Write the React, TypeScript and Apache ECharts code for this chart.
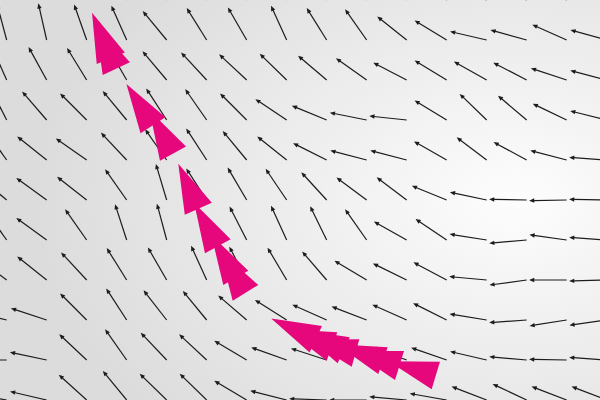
import { useEffect, useRef } from "react";
import * as echarts from "echarts";

// 风场箭头：每行 16 列，列 i 位于 x=i，行值 v 为 y（向上），角度为数学角（度，逆时针自 +x）
const ROW_V = [10, 9, 8, 7, 6, 5, 4, 3, 2, 1, 0];
const angles_v10 = [100, 100, 102, 104, 110, 110, 110, 108, 112, 115, 125, 135, 150, 150, 145, 150];
const angles_v9 = [105, 102.8, 109.4, 114, 129.6, 122, 120, 114.6, 122, 125, 141.5, 148.6, 167, 164.5, 156, 164.5];
const angles_v8 = [114, 118.8, 121.5, 120, 130, 132.9, 137, 135.7, 139.6, 144.8, 152.5, 148.6, 150.7, 152.5, 161.9, 165.5];
const angles_v7 = [117, 130.7, 135, 129.6, 123, 124.8, 135, 146.3, 157.6, 168.7, 173.9, 148.6, 136, 139.7, 154.4, 166];
const angles_v6 = [125.5, 141.5, 145, 133.2, 125, 123, 129.6, 141.5, 153.4, 165.5, 165.5, 150.4, 143, 151.6, 165.5, 176];
const angles_v5 = [140, 144, 142, 125, 106.7, 123, 120.4, 124, 132.5, 143.3, 143, 157.8, 168, 179, 181, 179];
const angles_v4 = [125.5, 144, 125, 108, 105, 109, 117, 114.6, 116, 125, 150.7, 145.9, 171, 185, 172, 176];
const angles_v3 = [143, 141.5, 132.9, 122, 120, 114.5, 117.5, 120.6, 130.7, 149, 153.9, 152, 174.8, 187.8, 180, 181.5];
const angles_v2 = [166, 161.9, 135, 123, 127.9, 129.3, 139.3, 147.7, 156, 159, 156, 153.4, 170.7, 184, 189, 188];
const angles_v1 = [180, 168, 136.8, 125, 133.6, 137, 149.4, 160.4, 162, 155, 160, 161, 167, 175, 179, 176];
const angles_v0 = [170, 167, 137.8, 129.3, 135.7, 135.7, 149.4, 165.7, 178, 180, 175, 170, 159, 154.8, 159, 159];
const ANGLE_ROWS = [
  angles_v10, angles_v9, angles_v8, angles_v7, angles_v6, angles_v5,
  angles_v4, angles_v3, angles_v2, angles_v1, angles_v0,
];

// 粒子轨迹：三角形底边中点 (x, y)、朝向角
const trailX = [2.603, 2.741, 3.658, 4.158, 4.791, 5.278, 5.728, 5.971, 7.728, 8.133, 8.426, 8.721, 9.408, 9.821, 10.728];
const trailY = [8.543, 8.283, 6.868, 6.158, 4.78, 3.843, 3.055, 2.68, 1.518, 1.338, 1.243, 1.175, 0.983, 0.863, 0.613];
const trailAngle = [112.4, 115, 122.7, 118.5, 114, 118.6, 119.8, 121.5, 155, 159.5, 155, 164.5, 160.6, 162.8, 163.3];
const trailWidth = [0.76, 0.75, 0.74, 0.74, 0.74, 0.73, 0.72, 0.75, 0.73, 0.76, 0.72, 0.71, 0.71, 0.76, 0.72];

const ARROW_LEN = 0.94;
const TRI_LEN = 1.23;
const PINK = "#e5077b";
const INK = "#1c1c1c";

const D2R = Math.PI / 180;

export default function App() {
  const ref = useRef<HTMLDivElement>(null);
  useEffect(() => {
    if (!ref.current) return;
    const chart = echarts.init(ref.current, undefined, { renderer: "svg" });

    const arrowData: number[][] = [];
    ANGLE_ROWS.forEach((row, r) => {
      row.forEach((a, i) => arrowData.push([i, ROW_V[r], a]));
    });
    const trailData = trailX.map((x, i) => [x, trailY[i], trailAngle[i], trailWidth[i]]);

    chart.setOption({
      animation: false,
      graphic: [
        {
          type: "rect",
          z: -100,
          silent: true,
          shape: { x: 0, y: 0, width: 600, height: 400 },
          style: {
            fill: new echarts.graphic.RadialGradient(0.86, 0.5, 0.8, [
              { offset: 0, color: "#fdfdfd" },
              { offset: 1, color: "#dcdcdc" },
            ]),
          },
        },
      ],
      grid: { left: 0, right: 0, top: 0, bottom: 0 },
      xAxis: { type: "value", min: -1 / 6, max: 14 + 5 / 6, show: false },
      yAxis: { type: "value", min: 0, max: 10, show: false },
      series: [
        {
          type: "custom",
          silent: true,
          z: 2,
          data: arrowData,
          renderItem: (_params: any, api: any) => {
            const x = api.value(0);
            const y = api.value(1);
            const a = api.value(2) * D2R;
            const c = Math.cos(a);
            const s = Math.sin(a);
            const tail = api.coord([x, y]);
            const tip = api.coord([x + ARROW_LEN * c, y + ARROW_LEN * s]);
            const hb = ARROW_LEN - 0.13;
            const hw = 0.055;
            const h1 = api.coord([x + hb * c - hw * s, y + hb * s + hw * c]);
            const h2 = api.coord([x + hb * c + hw * s, y + hb * s - hw * c]);
            const neck = api.coord([x + (hb + 0.02) * c, y + (hb + 0.02) * s]);
            return {
              type: "group",
              children: [
                {
                  type: "line",
                  shape: { x1: tail[0], y1: tail[1], x2: neck[0], y2: neck[1] },
                  style: { stroke: INK, lineWidth: 1.2 },
                },
                {
                  type: "polygon",
                  shape: { points: [tip, h1, h2] },
                  style: { fill: INK },
                },
              ],
            };
          },
        },
        {
          type: "custom",
          silent: true,
          z: 3,
          data: trailData,
          renderItem: (_params: any, api: any) => {
            const x = api.value(0);
            const y = api.value(1);
            const a = api.value(2) * D2R;
            const w = api.value(3) / 2;
            const c = Math.cos(a);
            const s = Math.sin(a);
            const apex = api.coord([x + TRI_LEN * c, y + TRI_LEN * s]);
            const b1 = api.coord([x - w * s, y + w * c]);
            const b2 = api.coord([x + w * s, y - w * c]);
            return {
              type: "polygon",
              shape: { points: [apex, b1, b2] },
              style: { fill: PINK },
            };
          },
        },
      ],
    });
    return () => chart.dispose();
  }, []);
  return (
    <div
      ref={ref}
      style={{ position: "fixed", left: 0, top: 0, width: 600, height: 400 }}
    />
  );
}
